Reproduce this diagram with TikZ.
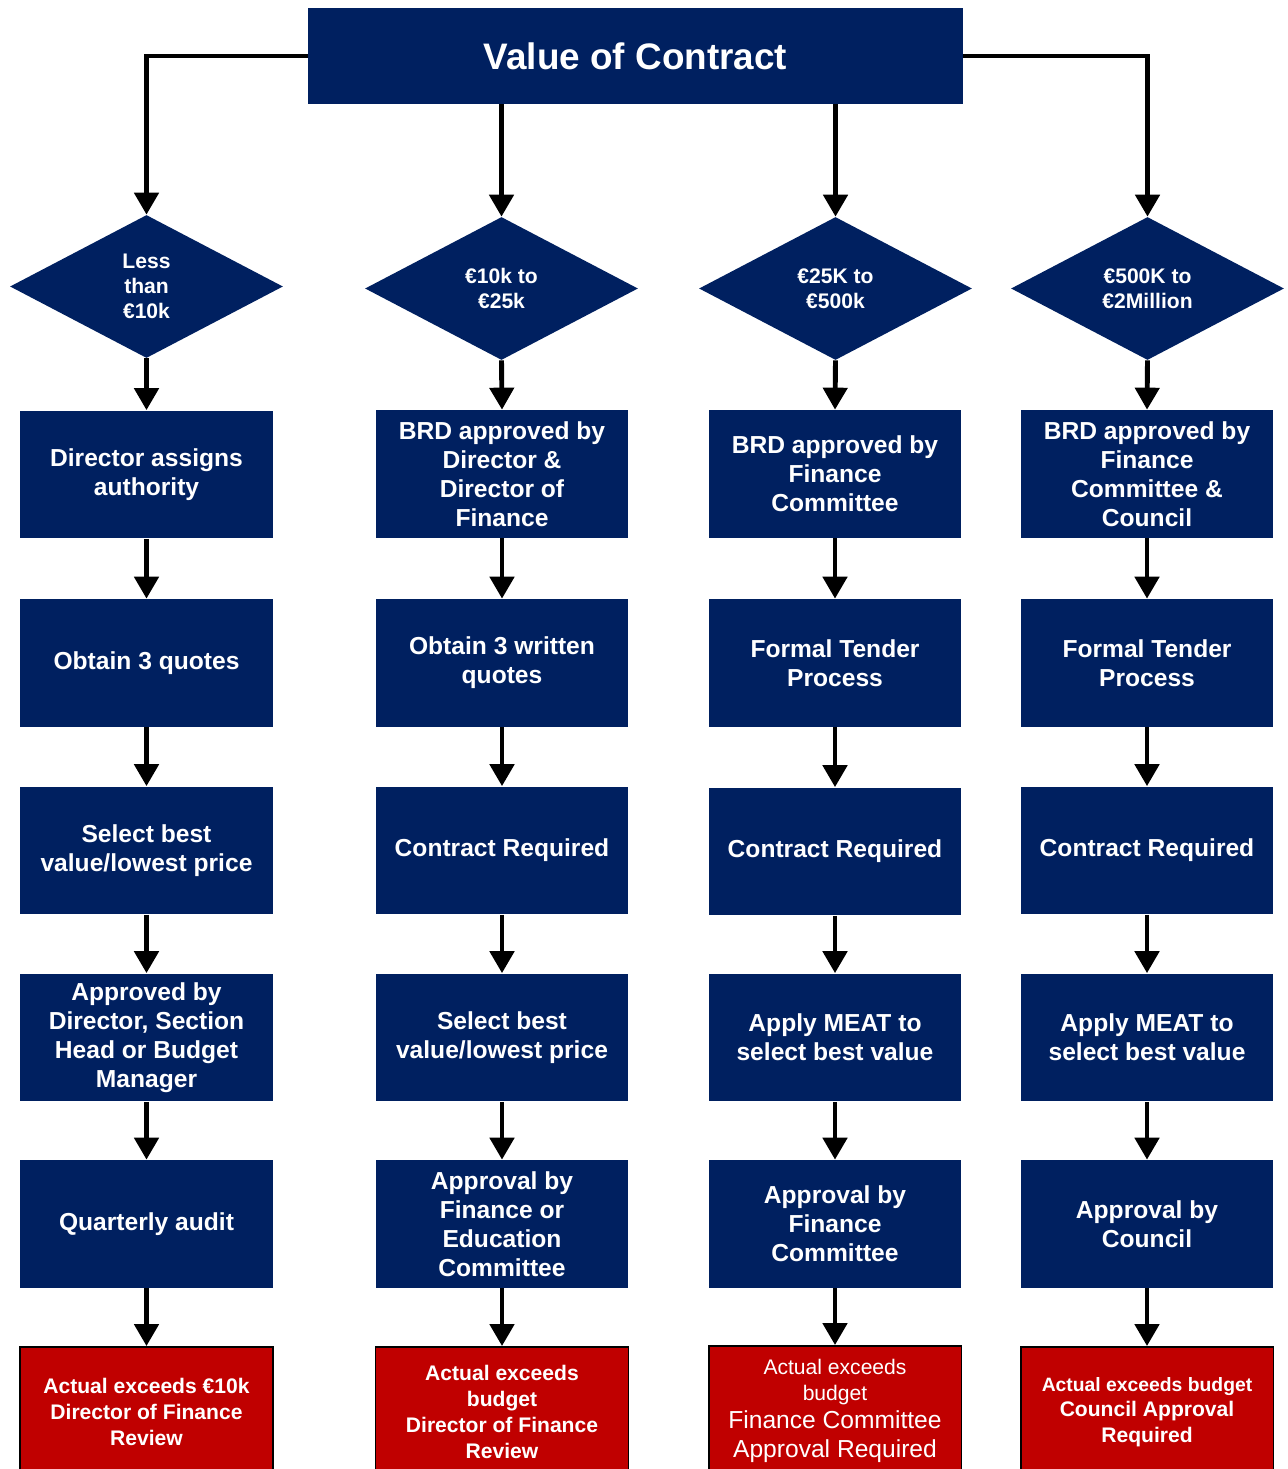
\documentclass[tikz,border=0pt]{standalone}
\usepackage{fontspec}
\setmainfont{Liberation Sans}
\usetikzlibrary{arrows.meta,shapes.geometric}
\definecolor{navy}{HTML}{002060}
\definecolor{redbox}{HTML}{C00000}
\begin{document}
\begin{tikzpicture}[x=0.02cm,y=-0.02cm,
 box/.style={rectangle,fill=navy,text=white,minimum width=5.06cm,minimum height=2.56cm,inner sep=0pt,align=center,font=\bfseries\fontsize{14}{16.4}\selectfont},
 dec/.style={diamond,fill=navy,text=white,minimum width=5.46cm,minimum height=2.86cm,inner sep=0pt,align=center,font=\bfseries\fontsize{12}{14.2}\selectfont},
 rbox/.style={box,fill=redbox,draw=black,line width=1.1pt,minimum height=2.6cm,font=\bfseries\fontsize{12}{14.7}\selectfont},
 arr/.style={line width=2.8pt,-{Triangle[width=0.48cm,length=0.44cm]}}]
\useasboundingbox (0,0) rectangle (1287,1469);
\clip (0,0) rectangle (1287,1469);

\node[box,minimum width=13.1cm,minimum height=1.92cm,font=\bfseries\fontsize{21}{25}\selectfont] (title) at (635.5,56) {Value of Contract};

\node[dec] (d1) at (146.5,286.5) {Less\\than\\€10k};
\node[dec] (d2) at (501.5,288.5) {€10k to\\€25k};
\node[dec] (d3) at (835.5,288.5) {€25K to\\€500k};
\node[dec] (d4) at (1147.5,288.5) {€500K to\\€2Million};

% column 1
\node[box] (c1r1) at (146.5,474.5) {Director assigns\\authority};
\node[box] (c1r2) at (146.5,663) {Obtain 3 quotes};
\node[box] (c1r3) at (146.5,850.5) {Select best\\value/lowest price};
\node[box] (c1r4) at (146.5,1037.5) {Approved by\\Director, Section\\Head or Budget\\Manager};
\node[box] (c1r5) at (146.5,1224) {Quarterly audit};
\node[rbox] (c1r6) at (146.5,1412) {Actual exceeds €10k\\Director of Finance\\Review};

% column 2
\node[box] (c2r1) at (502,474) {BRD approved by\\Director \&\\Director of\\Finance};
\node[box] (c2r2) at (502,663) {Obtain 3 written\\quotes};
\node[box] (c2r3) at (502,850.5) {Contract Required};
\node[box] (c2r4) at (502,1037.5) {Select best\\value/lowest price};
\node[box] (c2r5) at (502,1224) {Approval by\\Finance or\\Education\\Committee};
\node[rbox] (c2r6) at (502,1412) {Actual exceeds\\budget\\Director of Finance\\Review};

% column 3
\node[box] (c3r1) at (835,474) {BRD approved by\\Finance\\Committee};
\node[box] (c3r2) at (835,663) {Formal Tender\\Process};
\node[box] (c3r3) at (835,851.5) {Contract Required};
\node[box] (c3r4) at (835,1037.5) {Apply MEAT to\\select best value};
\node[box] (c3r5) at (835,1224) {Approval by\\Finance\\Committee};
\node[rbox,font=\fontsize{12}{16.4}\selectfont] (c3r6) at (835,1411) {Actual exceeds\\[-1.8pt]budget\\\fontsize{14}{16.4}\selectfont Finance Committee\\\fontsize{14}{16.4}\selectfont Approval Required};

% column 4
\node[box] (c4r1) at (1147,474) {BRD approved by\\Finance\\Committee \&\\Council};
\node[box] (c4r2) at (1147,663) {Formal Tender\\Process};
\node[box] (c4r3) at (1147,850.5) {Contract Required};
\node[box] (c4r4) at (1147,1037.5) {Apply MEAT to\\select best value};
\node[box] (c4r5) at (1147,1224) {Approval by\\Council};
\node[rbox,font=\bfseries\fontsize{12}{14.7}\selectfont] (c4r6) at (1147,1412) {\fontsize{11}{14.7}\selectfont Actual exceeds budget\\Council Approval\\Required};

% connectors
\draw[arr] (title.west) -| (d1.north);
\draw[arr] (title.east) -| (d4.north);
\draw[arr] (d2.north |- title.south) -- (d2.north);
\draw[arr] (d3.north |- title.south) -- (d3.north);
\foreach \c in {1,2,3,4}{
  \draw[arr] (d\c.south) -- (c\c r1.north);
  \draw[arr] (c\c r1.south) -- (c\c r2.north);
  \draw[arr] (c\c r2.south) -- (c\c r3.north);
  \draw[arr] (c\c r3.south) -- (c\c r4.north);
  \draw[arr] (c\c r4.south) -- (c\c r5.north);
  \draw[arr] (c\c r5.south) -- (c\c r6.north);
}
\end{tikzpicture}
\end{document}
